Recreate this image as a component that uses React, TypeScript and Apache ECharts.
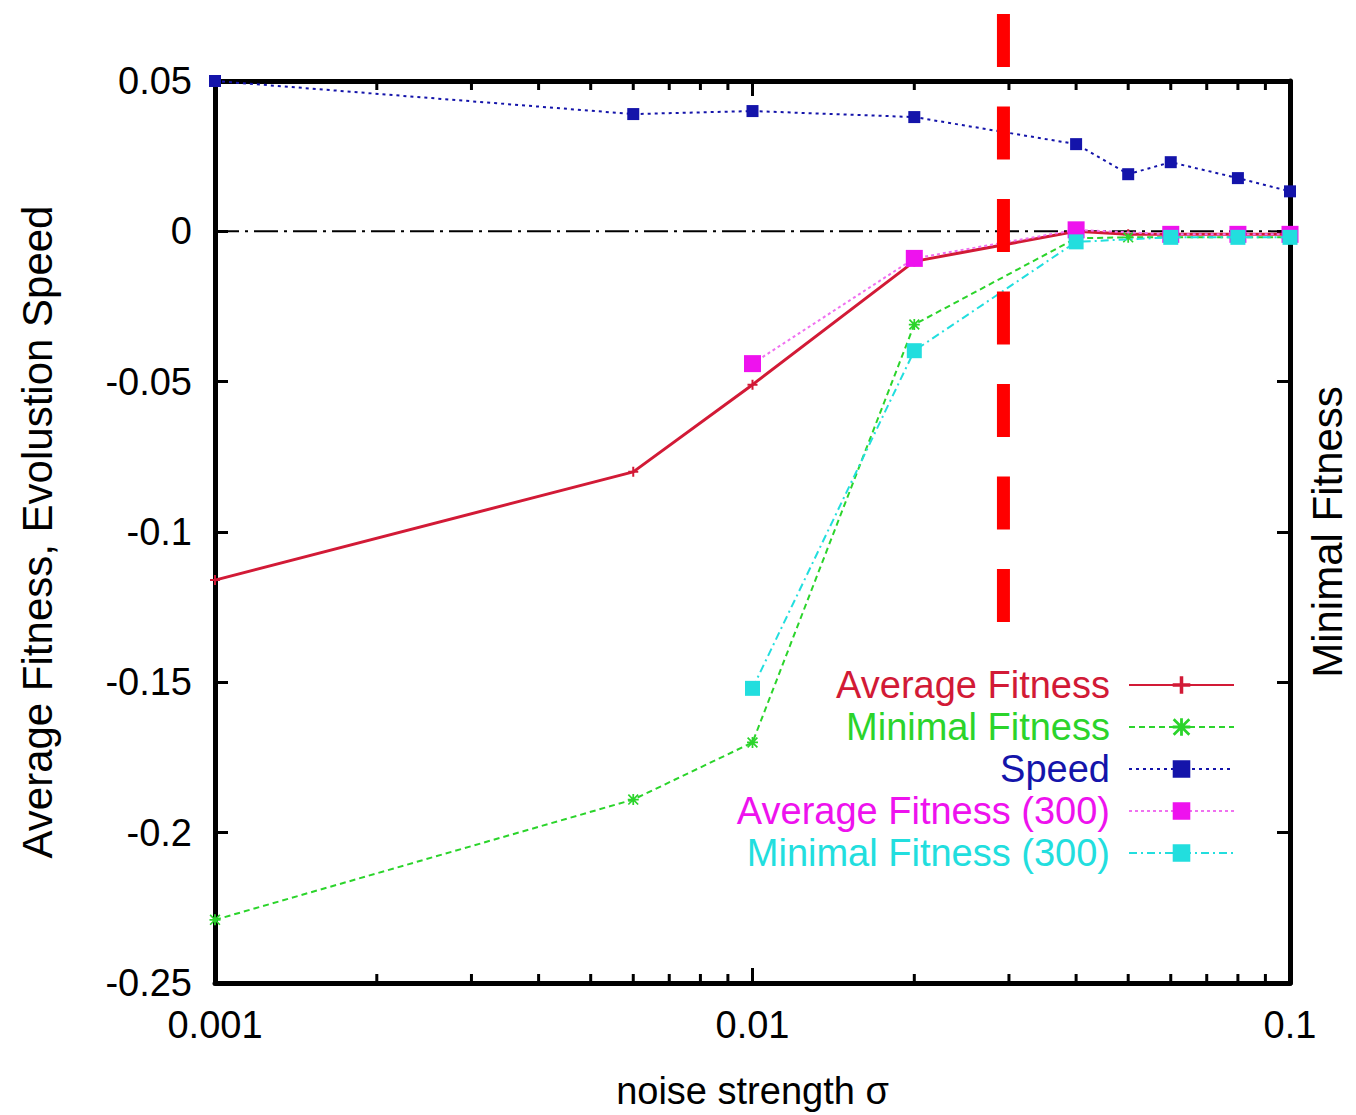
import React, { useEffect, useRef } from "react";
import * as echarts from "echarts";

const noise = [0.001, 0.006, 0.01, 0.02, 0.04, 0.05, 0.06, 0.08, 0.1];
const averageFitness = [-0.116, -0.08, -0.051, -0.01, 0, -0.001, -0.001, -0.001, -0.001];
const minimalFitness = [-0.229, -0.189, -0.17, -0.031, -0.0023, -0.002, -0.002, -0.002, -0.002];
const speed = [0.05, 0.039, 0.04, 0.038, 0.029, 0.019, 0.023, 0.0177, 0.0133];
const noise300 = [0.01, 0.02, 0.04, 0.06, 0.08, 0.1];
const averageFitness300 = [-0.044, -0.009, 0.0005, -0.001, -0.001, -0.001];
const minimalFitness300 = [-0.152, -0.0397, -0.0035, -0.002, -0.002, -0.002];
const thresholdNoise = 0.0293;
const thresholdSpan = [0.0723, -0.1303];
const zeroLineX = [0.001, 0.1];
const minorTicks = [
  0.002, 0.003, 0.004, 0.005, 0.006, 0.007, 0.008, 0.009,
  0.02, 0.03, 0.04, 0.05, 0.06, 0.07, 0.08, 0.09,
];
const xLabels: Record<string, string> = { "-3": "0.001", "-2": "0.01", "-1": "0.1" };

const FONT = "'Liberation Sans', Arial, sans-serif";
const RED = "#d21a36";
const GREEN = "#2bd42b";
const BLUE = "#1414aa";
const MAGENTA = "#ee12ee";
const CYAN = "#22dede";

const PLUS = "path://M4,0h2v4h4v2h-4v4h-2v-4h-4v-2h4z";
const STAR =
  "path://M4.2,0h1.6v10h-1.6z M0,4.2h10v1.6h-10z M1.1,0L10,8.9L8.9,10L0,1.1z M8.9,0L10,1.1L1.1,10L0,8.9z";

const pair = (xs: number[], ys: number[]) => xs.map((x, i) => [x, ys[i]]);

export default function App() {
  const ref = useRef<HTMLDivElement>(null);
  useEffect(() => {
    if (!ref.current) return;
    const chart = echarts.init(ref.current, null, { renderer: "svg" });
    const fmtY = (v: number) => String(parseFloat(v.toFixed(2)));
    const fmtX = (v: number) => {
      const k = String(Math.round(Math.log10(v)));
      return xLabels[k] ?? "";
    };
    const axisLine = { show: true, onZero: false, lineStyle: { color: "#000", width: 5 } };
    chart.setOption({
      animation: false,
      backgroundColor: "#ffffff",
      textStyle: { fontFamily: FONT },
      grid: { left: 215, right: 61, top: 81, bottom: 132, containLabel: false },
      legend: {
        orient: "vertical",
        right: 121,
        top: 666,
        padding: 0,
        align: "right",
        itemWidth: 105,
        itemHeight: 22,
        itemGap: 4,
        selectedMode: false,
        textStyle: { fontSize: 38, lineHeight: 38, fontFamily: FONT, padding: [0, 14, 0, 0] },
        data: [
          { name: "Average Fitness", textStyle: { color: RED } },
          { name: "Minimal Fitness", textStyle: { color: GREEN } },
          { name: "Speed", textStyle: { color: BLUE } },
          { name: "Average Fitness (300)", textStyle: { color: MAGENTA } },
          { name: "Minimal Fitness (300)", textStyle: { color: CYAN } },
        ],
      },
      xAxis: [
        {
          type: "log",
          logBase: 10,
          min: 0.001,
          max: 0.1,
          interval: 1,
          position: "bottom",
          name: "noise strength σ",
          nameLocation: "middle",
          nameGap: 89,
          nameTextStyle: { fontSize: 38, color: "#000", fontFamily: FONT },
          axisLine,
          axisTick: { show: true, inside: true, length: 15, lineStyle: { color: "#000", width: 3 } },
          axisLabel: { formatter: fmtX, fontSize: 38, color: "#000", margin: 23, fontFamily: FONT },
          splitLine: { show: false },
        },
        {
          type: "log",
          logBase: 10,
          min: 0.001,
          max: 0.1,
          interval: 1,
          position: "top",
          axisLine,
          axisTick: { show: true, inside: true, length: 15, lineStyle: { color: "#000", width: 3 } },
          axisLabel: { show: false },
          splitLine: { show: false },
        },
      ],
      yAxis: [
        {
          type: "value",
          min: -0.25,
          max: 0.05,
          interval: 0.05,
          position: "left",
          name: "Average Fitness, Evolustion Speed",
          nameLocation: "middle",
          nameGap: 157,
          nameRotate: 90,
          nameTextStyle: { fontSize: 42, color: "#000", fontFamily: FONT },
          axisLine,
          axisTick: { show: true, inside: true, length: 13, lineStyle: { color: "#000", width: 3 } },
          axisLabel: { formatter: fmtY, fontSize: 38, color: "#000", margin: 23, fontFamily: FONT },
          splitLine: { show: false },
        },
        {
          type: "value",
          min: -0.25,
          max: 0.05,
          interval: 0.05,
          position: "right",
          name: "Minimal Fitness",
          nameLocation: "middle",
          nameGap: 16,
          nameRotate: 90,
          nameTextStyle: { fontSize: 42, color: "#000", fontFamily: FONT },
          axisLine,
          axisTick: { show: true, inside: true, length: 13, lineStyle: { color: "#000", width: 3 } },
          axisLabel: { show: false },
          splitLine: { show: false },
        },
      ],
      series: [
        {
          type: "custom",
          name: "minorTicks",
          silent: true,
          data: minorTicks.map((x) => [x]),
          encode: { x: 0 },
          renderItem: (params: any, api: any) => {
            const x = api.value(0);
            const b = api.coord([x, -0.25]);
            const t = api.coord([x, 0.05]);
            const s = { stroke: "#000", lineWidth: 3 };
            return {
              type: "group",
              children: [
                { type: "line", shape: { x1: b[0], y1: b[1], x2: b[0], y2: b[1] - 9 }, style: s },
                { type: "line", shape: { x1: t[0], y1: t[1], x2: t[0], y2: t[1] + 9 }, style: s },
              ],
            };
          },
          z: 1,
        },
        {
          type: "line",
          name: "zero",
          data: pair(zeroLineX, [0, 0]),
          symbol: "none",
          silent: true,
          lineStyle: { color: "#000", width: 2, type: [24, 6, 3, 6] },
          z: 3,
        },
        {
          type: "line",
          name: "Average Fitness",
          data: pair(noise, averageFitness),
          symbol: PLUS,
          symbolSize: 10,
          itemStyle: { color: RED },
          lineStyle: { color: RED, width: 3 },
          z: 4,
        },
        {
          type: "line",
          name: "Minimal Fitness",
          data: pair(noise, minimalFitness),
          symbol: STAR,
          symbolSize: 11,
          itemStyle: { color: GREEN },
          lineStyle: { color: GREEN, width: 2, type: [6, 4] },
          z: 4,
        },
        {
          type: "line",
          name: "Speed",
          data: pair(noise, speed),
          symbol: "rect",
          symbolSize: 12,
          itemStyle: { color: BLUE },
          lineStyle: { color: BLUE, width: 2, type: [3, 4] },
          z: 4,
        },
        {
          type: "line",
          name: "Average Fitness (300)",
          data: pair(noise300, averageFitness300),
          symbol: "rect",
          symbolSize: 17,
          itemStyle: { color: MAGENTA },
          lineStyle: { color: "#f070f0", width: 2, type: [3, 3] },
          z: 5,
        },
        {
          type: "line",
          name: "Minimal Fitness (300)",
          data: pair(noise300, minimalFitness300),
          symbol: "rect",
          symbolSize: 15,
          itemStyle: { color: CYAN },
          lineStyle: { color: CYAN, width: 2, type: [8, 4, 2, 4] },
          z: 6,
        },
        {
          type: "line",
          name: "threshold",
          data: [
            [thresholdNoise, thresholdSpan[0]],
            [thresholdNoise, thresholdSpan[1]],
          ],
          symbol: "none",
          silent: true,
          clip: false,
          lineStyle: { color: "#ff0000", width: 13, type: [53, 39.5], cap: "butt" },
          z: 7,
        },
      ],
    });
    return () => chart.dispose();
  }, []);
  return (
    <div
      ref={ref}
      style={{ position: "fixed", left: 0, top: 0, width: 1356, height: 1115 }}
    />
  );
}
